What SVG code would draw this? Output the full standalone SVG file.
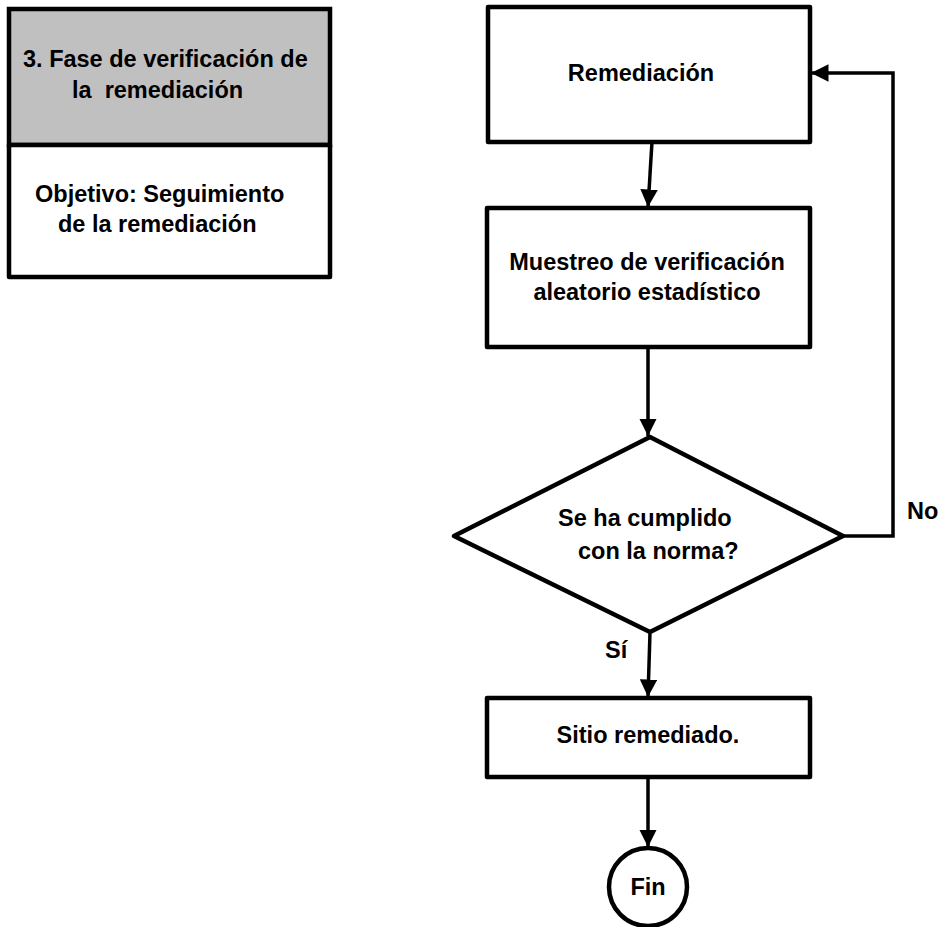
<svg xmlns="http://www.w3.org/2000/svg" width="942" height="927" viewBox="0 0 942 927">
<style>
.box{fill:#fff;stroke:#000;stroke-width:4.5;stroke-linejoin:round}
.t{font-family:"Liberation Sans",Arial,sans-serif;font-weight:bold;font-size:23.5px;fill:#000}
.c{text-anchor:middle}
.ln{fill:none;stroke:#000;stroke-width:3.5}
</style>
<defs>
<marker id="ah" viewBox="0 0 10 10" refX="10" refY="5" markerWidth="5" markerHeight="5" markerUnits="strokeWidth" orient="auto">
<path d="M0,0 L10,5 L0,10 z" fill="#000"/>
</marker>
</defs>
<g id="phase">
<rect x="9" y="9" width="321" height="136" fill="#c0c0c0" stroke="#000" stroke-width="4.5"/>
<rect x="9" y="145" width="321" height="132" class="box"/>
<text class="t" x="23" y="67">3. Fase de verificación de</text>
<text class="t" x="72" y="98" xml:space="preserve">la  remediación</text>
<text class="t" x="35" y="202">Objetivo: Seguimiento</text>
<text class="t" x="58" y="232">de la remediación</text>
</g>
<g id="remediacion">
<rect x="488" y="7" width="322" height="135" class="box"/>
<text class="t c" x="641" y="81">Remediación</text>
</g>
<g id="muestreo">
<rect x="487" y="208" width="323" height="139" class="box"/>
<text class="t c" x="647" y="270">Muestreo de verificación</text>
<text class="t c" x="647" y="300">aleatorio estadístico</text>
</g>
<g id="decision">
<polygon points="650,437 843,536 650,632 454,536" class="box"/>
<text class="t" x="558" y="526">Se ha cumplido</text>
<text class="t" x="578" y="559">con la norma?</text>
</g>
<g id="sitio">
<rect x="487" y="698" width="323" height="79" class="box"/>
<text class="t c" x="648" y="743">Sitio remediado.</text>
</g>
<g id="fin">
<circle cx="648" cy="887" r="39" class="box"/>
<text class="t c" x="648" y="895">Fin</text>
</g>
<g id="connectors">
<line x1="652" y1="142" x2="648" y2="207" class="ln" marker-end="url(#ah)"/>
<line x1="648" y1="347" x2="648" y2="436" class="ln" marker-end="url(#ah)"/>
<polyline points="843,536 893,536 893,73 811,73" class="ln" marker-end="url(#ah)"/>
<line x1="650" y1="632" x2="648" y2="697" class="ln" marker-end="url(#ah)"/>
<line x1="648" y1="777" x2="648" y2="847" class="ln" marker-end="url(#ah)"/>
<text class="t" x="907" y="519">No</text>
<text class="t" x="605" y="658">Sí</text>
</g>
</svg>
